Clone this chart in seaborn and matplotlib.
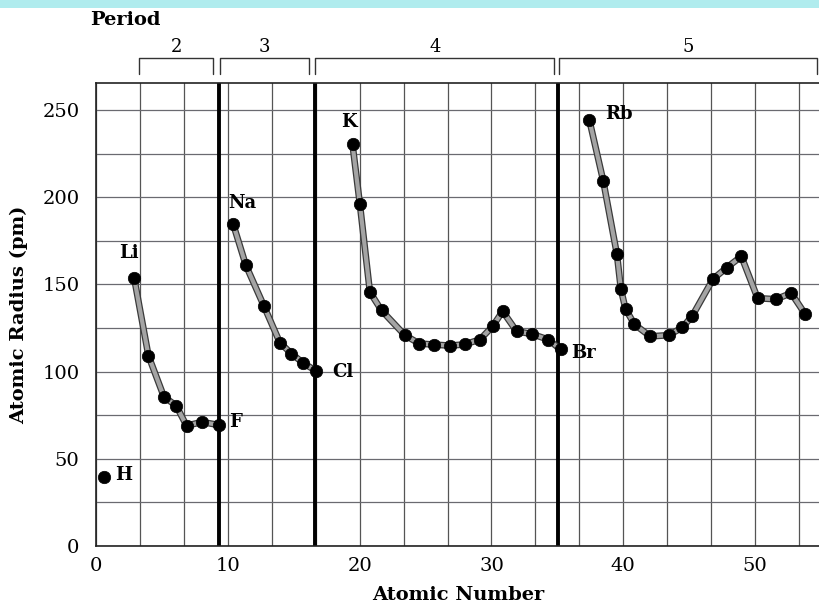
import numpy as np
import pandas as pd
import seaborn as sns
import matplotlib
matplotlib.use("Agg")
import matplotlib.pyplot as plt
import matplotlib.patheffects as pe
from matplotlib.patches import Rectangle
from matplotlib.ticker import MultipleLocator
import matplotlib.transforms as mtransforms

# ---- data ----
h_x = [0.57]
h_y = [39.7]

p2_x = [2.90, 3.98, 5.15, 6.09, 6.87, 8.04, 9.30]
p2_y = [153.5, 109.1, 85.6, 80.4, 69.0, 71.1, 69.4]

p3_x = [10.41, 11.37, 12.74, 13.95, 14.83, 15.72, 16.68]
p3_y = [184.5, 161.0, 137.6, 116.6, 110.3, 104.9, 100.5]

p4_x = [19.46, 20.02, 20.78, 21.66, 23.43, 24.52, 25.61, 26.85, 27.96, 29.13,
        30.09, 30.85, 31.91, 33.05, 34.31, 35.24]
p4_y = [230.3, 195.9, 145.6, 135.1, 120.9, 116.1, 115.5, 114.9, 115.6, 118.4,
        126.0, 134.6, 123.1, 121.6, 118.4, 112.7]

p5_x = [37.42, 38.48, 39.52, 39.82, 40.17, 40.85, 42.05, 43.45, 44.48, 45.24,
        46.81, 47.84, 48.96, 50.19, 51.58, 52.74, 53.78]
p5_y = [244.5, 209.4, 167.2, 147.3, 135.9, 127.1, 120.2, 120.9, 125.3, 132.0,
        153.1, 159.6, 166.1, 142.1, 141.5, 145.0, 133.2]

period_boundaries = [9.3, 16.65, 35.05]
period_names = ["2", "3", "4", "5"]
period_spans = [(3.28, 8.89), (9.42, 16.18), (16.63, 34.76), (35.14, 54.7)]

element_labels = ["H", "Li", "F", "Na", "Cl", "K", "Br", "Rb"]
element_label_x = [2.06, 2.5, 10.6, 11.1, 18.7, 19.2, 36.97, 39.7]
element_label_y = [41, 168, 71, 196.7, 100, 243, 110.7, 248]

x_ticks = [0, 10, 20, 30, 40, 50]
y_ticks = [0, 50, 100, 150, 200, 250]

# ---- build frame ----
frames = []
for name, xs, ys in [("1", h_x, h_y), ("2", p2_x, p2_y), ("3", p3_x, p3_y),
                     ("4", p4_x, p4_y), ("5", p5_x, p5_y)]:
    frames.append(pd.DataFrame({"Z": xs, "r": ys, "period": name}))
df = pd.concat(frames, ignore_index=True)

sns.set_theme(style="white")
plt.rcParams["font.family"] = ["DejaVu Serif"]
plt.rcParams["text.color"] = "black"
plt.rcParams["axes.labelcolor"] = "black"

W, H = 820, 606
fig = plt.figure(figsize=(W / 100, H / 100), dpi=100)
fig.patch.set_facecolor("white")
fig.add_artist(Rectangle((0, 1 - 8 / H), 1, 8 / H, transform=fig.transFigure,
                         color="#b0ecee", lw=0))

ax = fig.add_axes([96 / W, (H - 546) / H, 725 / W, 463 / H])
ax.set_xlim(0, 55)
ax.set_ylim(0, 265.5)

ax.xaxis.set_major_locator(MultipleLocator(10))
ax.xaxis.set_minor_locator(MultipleLocator(10 / 3))
ax.yaxis.set_major_locator(MultipleLocator(50))
ax.yaxis.set_minor_locator(MultipleLocator(25))
ax.set_xticks(x_ticks)
ax.set_yticks(y_ticks)
ax.grid(True, which="both", axis="x", color="#555555", lw=0.9)
ax.grid(True, which="both", axis="y", color="#6a6a70", lw=0.9)
ax.set_axisbelow(True)

for b in period_boundaries:
    ax.axvline(b, color="black", lw=2.8, zorder=2)

for name in ["2", "3", "4", "5"]:
    sub = df[df["period"] == name]
    sns.lineplot(data=sub, x="Z", y="r", sort=False, estimator=None, ax=ax,
                 color="#a4a4a4", lw=3.0, zorder=3,
                 path_effects=[pe.Stroke(linewidth=4.8, foreground="#3a3a3a"),
                               pe.Normal()])
sns.scatterplot(data=df, x="Z", y="r", color="black", s=80, edgecolor="black",
                linewidth=0.5, ax=ax, zorder=4, legend=False)

for t, x, y in zip(element_labels, element_label_x, element_label_y):
    ax.text(x, y, t, ha="center", va="center", fontsize=13, fontweight="bold",
            color="black", zorder=5)

for s in ax.spines.values():
    s.set_color("#222222")
    s.set_linewidth(1.2)
ax.spines["right"].set_visible(False)

ax.tick_params(axis="both", which="both", length=0, labelsize=14, colors="black")
ax.tick_params(axis="y", pad=12)
ax.tick_params(axis="x", pad=8)

ax.set_xlabel("Atomic Number", fontsize=14, fontweight="bold", labelpad=8)
ax.set_ylabel("Atomic Radius (pm)", fontsize=14, fontweight="bold", labelpad=10)

# period brackets above the plot
trans = mtransforms.blended_transform_factory(ax.transData, ax.transAxes)
y_top = (546 - 58) / 463
y_leg = (546 - 74) / 463
for name, (x0, x1) in zip(period_names, period_spans):
    ax.plot([x0, x0, x1, x1], [y_leg, y_top, y_top, y_leg], color="#333333",
            lw=1.0, transform=trans, clip_on=False)
    ax.text((x0 + x1) / 2, (546 - 47) / 463, name, ha="center", va="center",
            fontsize=13, color="black", transform=trans, clip_on=False)

fig.text(90 / W, 1 - 20 / H, "Period", ha="left", va="center", fontsize=14,
         fontweight="bold", color="black")

fig.savefig("out.png", dpi=100)
